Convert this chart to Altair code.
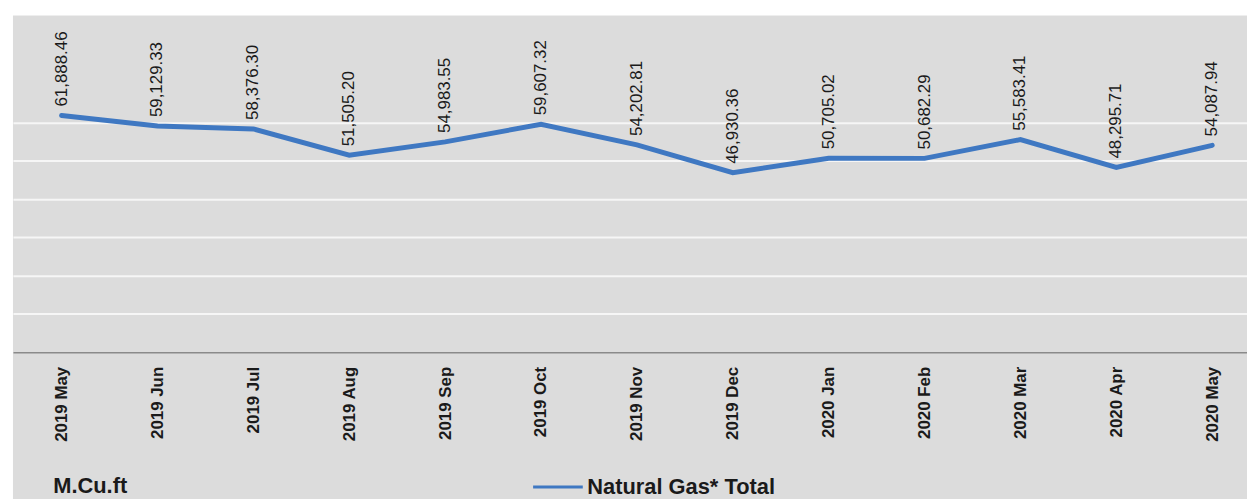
import altair as alt
import pandas as pd

months = ["2019 May", "2019 Jun", "2019 Jul", "2019 Aug", "2019 Sep", "2019 Oct",
          "2019 Nov", "2019 Dec", "2020 Jan", "2020 Feb", "2020 Mar", "2020 Apr", "2020 May"]
values = [61888.46, 59129.33, 58376.30, 51505.20, 54983.55, 59607.32,
          54202.81, 46930.36, 50705.02, 50682.29, 55583.41, 48295.71, 54087.94]
series_name = "Natural Gas* Total"
grid_values = [10000, 20000, 30000, 40000, 50000, 60000]

df = pd.DataFrame({"month": months, "value": values, "series": [series_name] * len(months)})

W, H = 1242, 339
GREY = "#dcdcdc"
BLUE = "#3f78c2"
FONT = "Liberation Sans"

x_enc = alt.X(
    "month:N", sort=months,
    scale=alt.Scale(type="point", padding=0.435, align=0.583),
    axis=alt.Axis(title=None, labelAngle=-90, labelFont=FONT, labelFontWeight="bold",
                  labelFontSize=17, labelColor="#1a1a1a", labelPadding=14, ticks=False,
                  domainColor="#8a8a8a", domainWidth=1.5, grid=False, zindex=1),
)
y_enc = alt.Y(
    "value:Q",
    scale=alt.Scale(domain=[0, 88000], nice=False, zero=True),
    axis=alt.Axis(title="M.Cu.ft", titleAngle=0, titleX=40, titleY=473, titleAlign="left",
                  titleBaseline="middle", titleFont=FONT, titleFontSize=22, titleFontWeight="bold",
                  titleColor="#1a1a1a", labels=False, ticks=False, domain=False,
                  values=grid_values, grid=True, gridColor="#f6f6f6", gridWidth=2),
)

base = alt.Chart(df)

line = base.mark_line(strokeWidth=5, strokeCap="round").encode(
    x=x_enc, y=y_enc,
    color=alt.Color("series:N", scale=alt.Scale(range=[BLUE]),
                    legend=alt.Legend(title=None, orient="none", legendX=522, legendY=448,
                                      symbolType="stroke", symbolSize=2500, symbolStrokeWidth=3,
                                      labelFont=FONT, labelFontSize=22, labelFontWeight="bold",
                                      labelColor="#1a1a1a", labelOffset=3, labelLimit=0,
                                      padding=0)),
)

text = base.mark_text(angle=270, align="left", baseline="middle", dx=9, fontSize=17,
                      font=FONT, color="#1a1a1a").encode(
    x=x_enc, y=y_enc, text=alt.Text("value:Q", format=",.2f"))

strip_df = pd.DataFrame({"k": [0]})
top_strip = alt.Chart(strip_df).mark_rect(color="white").encode(
    x=alt.value(-20), x2=alt.value(W + 20), y=alt.value(-20), y2=alt.value(0))
left_strip = alt.Chart(strip_df).mark_rect(color="white").encode(
    x=alt.value(-20), x2=alt.value(0), y=alt.value(-20), y2=alt.value(H + 160))

chart = alt.layer(top_strip, left_strip, line, text).properties(
    width=W, height=H,
    autosize=alt.AutoSizeParams(type="none"),
    padding={"left": 5, "top": 6, "right": 0, "bottom": 146},
    background=GREY,
).configure_view(fill=GREY, stroke=None)

chart.save("out.html", embed_options={"renderer": "svg", "actions": False})
